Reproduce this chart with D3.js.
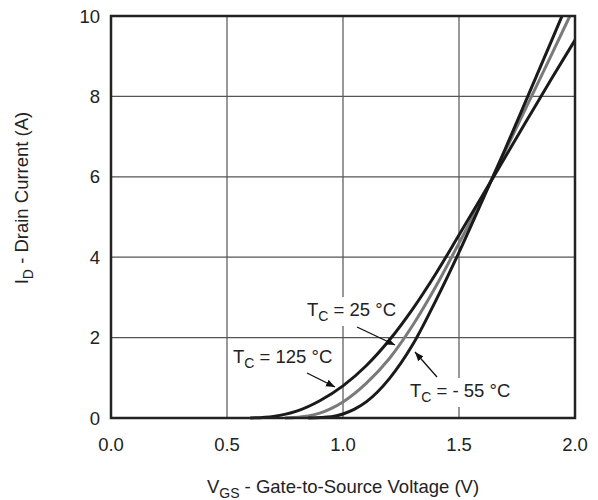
<!DOCTYPE html>
<html>
<head>
<meta charset="utf-8">
<script src="https://d3js.org/d3.v7.min.js"></script>
<style>
  body { margin: 0; background: white; }
  svg text { font-family: "Liberation Sans", Arial, sans-serif; fill: #222; }
</style>
</head>
<body>
<svg id="chart" width="598" height="500"></svg>
<script>
// values
var xTicks = [0.0, 0.5, 1.0, 1.5, 2.0];
var yTicks = [0, 2, 4, 6, 8, 10];

var vgs125 = [0.60, 0.70, 0.80, 0.90, 1.00, 1.10, 1.20, 1.30, 1.40, 1.50, 1.60, 1.70, 1.80, 1.90, 2.00];
var id125  = [0.00, 0.04, 0.17, 0.43, 0.80, 1.30, 1.94, 2.71, 3.59, 4.55, 5.52, 6.50, 7.48, 8.45, 9.40];

var vgs25 = [0.75, 0.85, 0.90, 0.95, 1.00, 1.10, 1.20, 1.30, 1.40, 1.50, 1.60, 1.70, 1.80, 1.90, 1.978];
var id25  = [0.00, 0.05, 0.12, 0.24, 0.40, 0.86, 1.48, 2.30, 3.27, 4.35, 5.45, 6.65, 7.85, 9.05, 10.0];

var vgsM55 = [0.85, 0.95, 1.00, 1.05, 1.10, 1.20, 1.30, 1.40, 1.50, 1.60, 1.70, 1.80, 1.90, 1.944];
var idM55  = [0.00, 0.03, 0.10, 0.22, 0.40, 0.98, 1.82, 2.92, 4.12, 5.40, 6.70, 8.05, 9.40, 10.0];

var svg = d3.select("#chart");
var pl = 111, pr = 575, pt = 16, pb = 418;
var fs = 18.5, fsSub = 14;

var x = d3.scaleLinear().domain([0, 2]).range([pl, pr]);
var y = d3.scaleLinear().domain([0, 10]).range([pb, pt]);

// grid
svg.append("g").selectAll("line").data(xTicks).join("line")
  .attr("x1", d => x(d)).attr("x2", d => x(d))
  .attr("y1", pt).attr("y2", pb)
  .attr("stroke", "#333").attr("stroke-width", 1);
svg.append("g").selectAll("line").data(yTicks).join("line")
  .attr("x1", pl).attr("x2", pr)
  .attr("y1", d => y(d)).attr("y2", d => y(d))
  .attr("stroke", "#555").attr("stroke-width", 1.3);

// tick labels
svg.append("g").selectAll("text").data(xTicks).join("text")
  .attr("x", d => x(d)).attr("y", 451)
  .attr("text-anchor", "middle").attr("font-size", fs)
  .text(d => d3.format(".1f")(d));
svg.append("g").selectAll("text").data(yTicks).join("text")
  .attr("x", 100).attr("y", d => y(d)).attr("dy", "0.36em")
  .attr("text-anchor", "end").attr("font-size", fs)
  .text(d => d);

// axis titles
var xt = svg.append("text").attr("x", x(1)).attr("y", 493)
  .attr("text-anchor", "middle").attr("font-size", fs);
xt.append("tspan").text("V");
xt.append("tspan").attr("font-size", fsSub).attr("dy", 5).text("GS");
xt.append("tspan").attr("dy", -5).text(" - Gate-to-Source Voltage (V)");

var yt = svg.append("text").attr("transform", "translate(28,198) rotate(-90)")
  .attr("text-anchor", "middle").attr("font-size", fs);
yt.append("tspan").text("I");
yt.append("tspan").attr("font-size", fsSub).attr("dy", 5).text("D");
yt.append("tspan").attr("dy", -5).text(" - Drain Current (A)");

// annotation labels with white backing
function label(tx, ty, sub, rest) {
  var g = svg.append("g");
  var t = g.append("text").attr("x", tx).attr("y", ty).attr("font-size", fs);
  t.append("tspan").text("T");
  t.append("tspan").attr("font-size", fsSub).attr("dy", 5).text(sub);
  t.append("tspan").attr("dy", -5).text(rest);
  var b = t.node().getBBox();
  g.insert("rect", "text")
    .attr("x", b.x - 3).attr("y", b.y - 2)
    .attr("width", b.width + 6).attr("height", b.height + 4)
    .attr("fill", "white");
}
label(307, 316, "C", " = 25 \u00B0C");
label(233, 363, "C", " = 125 \u00B0C");
label(410, 397, "C", " = - 55 \u00B0C");

// curves
var line = d3.line().x(d => x(d[0])).y(d => y(d[1])).curve(d3.curveMonotoneX);
var plot = svg.append("g");
plot.append("path").datum(d3.zip(vgs25, id25))
  .attr("d", line).attr("fill", "none").attr("stroke", "#7a7a7a").attr("stroke-width", 3);
plot.append("path").datum(d3.zip(vgs125, id125))
  .attr("d", line).attr("fill", "none").attr("stroke", "#1a1a1a").attr("stroke-width", 3);
plot.append("path").datum(d3.zip(vgsM55, idM55))
  .attr("d", line).attr("fill", "none").attr("stroke", "#1a1a1a").attr("stroke-width", 3);

// border
svg.append("rect").attr("x", pl).attr("y", pt)
  .attr("width", pr - pl).attr("height", pb - pt)
  .attr("fill", "none").attr("stroke", "#222").attr("stroke-width", 2.5);

// arrows
svg.append("defs").append("marker").attr("id", "ah")
  .attr("viewBox", "0 0 10 10").attr("refX", 10).attr("refY", 5)
  .attr("markerWidth", 9).attr("markerHeight", 9).attr("markerUnits", "userSpaceOnUse")
  .attr("orient", "auto")
  .append("path").attr("d", "M0,1 L10,5 L0,9 Z").attr("fill", "#111");

var arrows = [
  [[357, 327], [395, 345]],
  [[307, 373], [335, 387]],
  [[437, 377], [415, 352]]
];
svg.append("g").selectAll("line").data(arrows).join("line")
  .attr("x1", d => d[0][0]).attr("y1", d => d[0][1])
  .attr("x2", d => d[1][0]).attr("y2", d => d[1][1])
  .attr("stroke", "#111").attr("stroke-width", 1.3)
  .attr("marker-end", "url(#ah)");
</script>
</body>
</html>
